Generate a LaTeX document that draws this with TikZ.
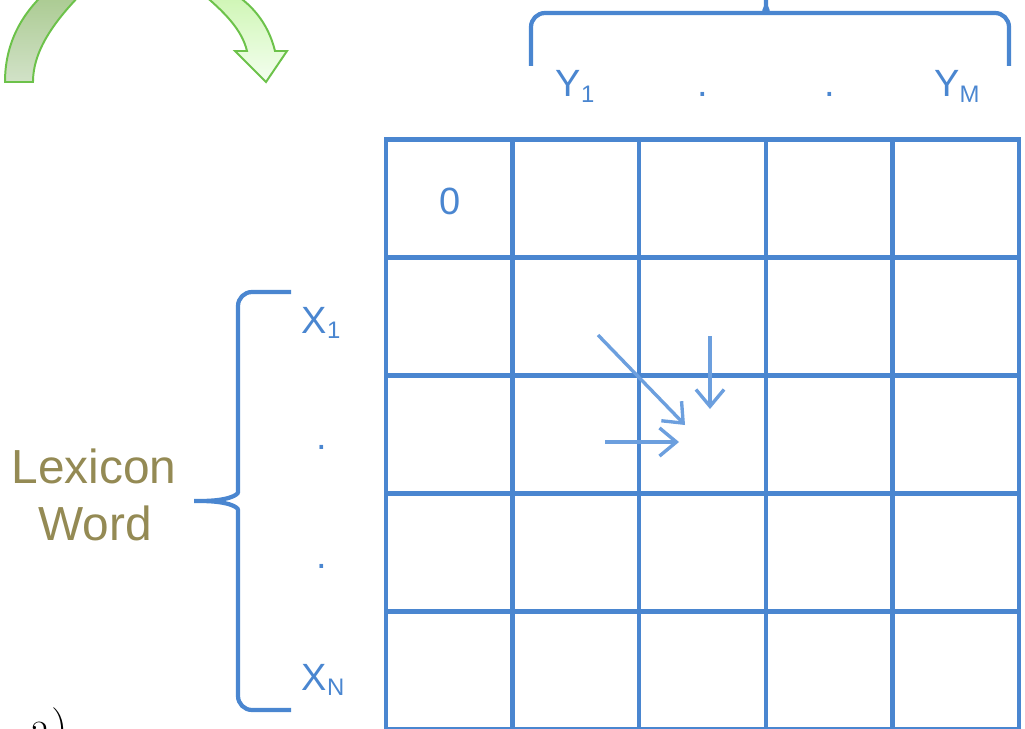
\documentclass[tikz,border=0pt]{standalone}
\usepackage{fontspec}
\setsansfont{Liberation Sans}
\usepackage{xcolor}
\usepackage{tikz}
\usetikzlibrary{arrows.meta}

\definecolor{gridblue}{HTML}{4A86D0}
\definecolor{moveblue}{HTML}{6C9FDE}
\definecolor{wordolive}{HTML}{948A54}
\definecolor{bendline}{HTML}{6CC24A}
\definecolor{darkbendtop}{HTML}{A8C98E}
\definecolor{darkbendbot}{HTML}{D2E2C8}
\definecolor{lightbendtop}{HTML}{CCF5B0}
\definecolor{lightbendbot}{HTML}{F4FFF0}

\newcommand{\lblsub}[1]{\raisebox{-4pt}{\fontsize{17}{17}\selectfont #1}}

\begin{document}
\begin{tikzpicture}[x=0.025cm,y=-0.025cm,>={Straight Barb[length=12pt,width=20pt]},
  gridline/.style={gridblue,line width=3.2pt},
  brace/.style={gridblue,line width=3pt,rounded corners=10pt},
  moveline/.style={moveblue,line width=2.4pt,->},
  turnarrow/.style={draw=bendline,line width=1.4pt},
  lbl/.style={gridblue,font=\sffamily\fontsize{27}{27}\selectfont,anchor=base,inner sep=0pt},
  word/.style={wordolive,font=\sffamily\fontsize{34}{34}\selectfont,anchor=base,inner sep=0pt}]
\clip (0,0) rectangle (1025,729);
% green turn arrows
\draw[turnarrow,top color=darkbendtop,bottom color=darkbendbot](5,82)..controls(5,45)and(20,15)..(48,-10)--(85,-10)..controls(55,20)and(33,50)..(33,82)--cycle;
\draw[turnarrow,top color=lightbendtop,bottom color=lightbendbot](198,-10)..controls(225,12)and(242,30)..(247,51)--(235,51)--(266,82)--(287,51)--(275,51)..controls(268,22)and(250,2)..(228,-10)--cycle;
% matrix
\foreach \x in {386,512.6,639.2,765.8,892.4,1019}
  \draw[gridline](\x,137)--(\x,740);
\foreach \y in {139.5,257.5,375.5,493.5,611.5,729}
  \draw[gridline](384,\y)--(1021,\y);
\node[lbl] (zero) at (450,214) {0};
% braces
\draw[brace](531,66)--(531,13)--(752,13)..controls(762,13)and(766,8)..(766,-8)..controls(766,8)and(770,13)..(780,13)--(1009,13)--(1009,66);
\draw[brace](291,292)--(238,292)--(238,478)..controls(238,495)and(228,501)..(186,501)..controls(228,501)and(238,507)..(238,524)--(238,710)--(291,710);
\node[lbl] (y1) at (575,97) {Y\lblsub{1}};
\node[lbl] (ydot1) at (703,97) {.};
\node[lbl] (ydot2) at (830,97) {.};
\node[lbl] (ym) at (957,97) {Y\lblsub{M}};
\node[lbl] (x1) at (321,333) {X\lblsub{1}};
\node[lbl] (xdot1) at (322,449) {.};
\node[lbl] (xdot2) at (322,568) {.};
\node[lbl] (xn) at (323,690) {X\lblsub{N}};
\node[word] (lexicon) at (94,483) {Lexicon};
\node[word] (word) at (95,540) {Word};
% moves
\coordinate (diagfrom) at (598,335);
\coordinate (diagto) at (685,425);
\coordinate (downfrom) at (710,336);
\coordinate (downto) at (710,409);
\coordinate (rightfrom) at (605,442);
\coordinate (rightto) at (679,442);
\draw[moveline](diagfrom)--(diagto);
\draw[moveline](downfrom)--(downto);
\draw[moveline](rightfrom)--(rightto);
\node[anchor=base west,inner sep=0pt,font=\fontsize{33}{33}\selectfont] (part) at (30,742) {a)};
\end{tikzpicture}
\end{document}
